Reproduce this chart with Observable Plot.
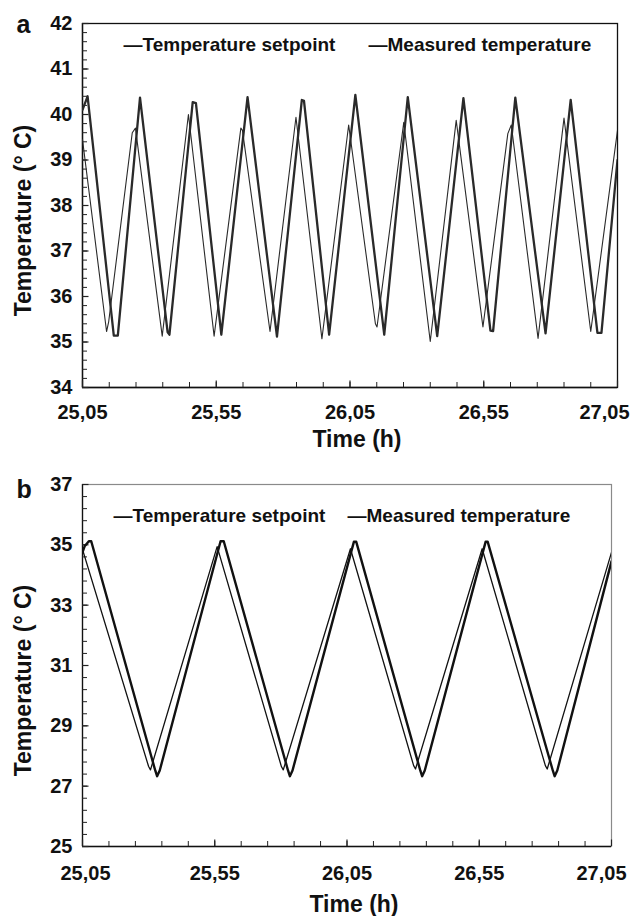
<!DOCTYPE html>
<html><head><meta charset="utf-8">
<script src="https://cdn.jsdelivr.net/npm/d3@7"></script>
<script src="https://cdn.jsdelivr.net/npm/@observablehq/plot@0.6"></script>
<style>
body{margin:0;background:#fff;}
#chart{width:632px;}
svg{display:block;}
</style></head><body><div id="chart"></div>
<script>
// ---- tick labels / categories ----
const xMajorTicks = [25.05, 25.55, 26.05, 26.55, 27.05];
const yTicksA = [34, 35, 36, 37, 38, 39, 40, 41, 42];
const yTicksB = [25, 27, 29, 31, 33, 35, 37];
const seriesNames = ["Temperature setpoint", "Measured temperature"];
const panelLetters = ["a", "b"];
const xTitle = "Time (h)";
const yTitle = "Temperature (° C)";

// ---- panel a data ----
const setATime = [25.050, 25.140, 25.148, 25.236, 25.248, 25.348, 25.446, 25.542, 25.642, 25.648, 25.751, 25.848, 25.945, 26.045, 26.145, 26.151, 26.251, 26.350, 26.447, 26.547, 26.640, 26.653, 26.753, 26.850, 26.950, 27.050];
const setAValue = [39.45, 35.23, 35.45, 39.60, 39.70, 35.13, 40.00, 35.13, 39.70, 39.65, 35.23, 39.94, 35.07, 39.77, 35.40, 35.33, 39.83, 35.01, 39.87, 35.33, 39.58, 39.77, 35.08, 39.92, 35.23, 39.65];
const measATime = [25.050, 25.069, 25.167, 25.182, 25.265, 25.368, 25.375, 25.462, 25.474, 25.569, 25.667, 25.777, 25.870, 25.878, 25.972, 26.070, 26.178, 26.266, 26.376, 26.474, 26.575, 26.585, 26.668, 26.781, 26.875, 26.975, 26.990, 27.050];
const measAValue = [40.10, 40.40, 35.14, 35.14, 40.37, 35.22, 35.16, 40.27, 40.25, 35.16, 40.38, 35.12, 40.32, 40.30, 35.16, 40.43, 35.16, 40.38, 35.13, 40.36, 35.25, 35.24, 40.37, 35.19, 40.32, 35.20, 35.20, 39.00];

// ---- panel b data ----
const setBTime = [25.050, 25.300, 25.307, 25.559, 25.802, 25.809, 26.063, 26.302, 26.309, 26.561, 26.800, 26.807, 27.050];
const setBValue = [34.85, 27.65, 27.54, 34.94, 27.65, 27.54, 34.87, 27.68, 27.57, 34.87, 27.68, 27.57, 34.75];
const measBTime = [25.050, 25.058, 25.074, 25.083, 25.325, 25.332, 25.342, 25.572, 25.584, 25.827, 25.834, 25.844, 26.076, 26.085, 26.327, 26.334, 26.344, 26.574, 26.582, 26.828, 26.835, 26.845, 27.050];
const measBValue = [34.75, 34.95, 35.12, 35.12, 27.52, 27.33, 27.52, 35.12, 35.12, 27.52, 27.33, 27.52, 35.10, 35.10, 27.52, 27.33, 27.52, 35.10, 35.10, 27.52, 27.33, 27.52, 34.45];

const FONT = "'Liberation Sans', Arial, Helvetica, sans-serif";
const fmtX = d => d.toFixed(2).replace(".", ",");

function table(times, values, name) {
  return times.map((t, i) => ({t, v: values[i], series: name}));
}

function panel(cfg) {
  const W = cfg.width, H = cfg.height;
  const fw = W - cfg.ml - cfg.mr, fh = H - cfg.mt - cfg.mb;
  const xDomain = [xMajorTicks[0], xMajorTicks[xMajorTicks.length - 1]];
  const yDomain = [cfg.yTicks[0], cfg.yTicks[cfg.yTicks.length - 1]];
  const xMinor = d3.range(0, 21).map(i => +(xDomain[0] + i * 0.1).toFixed(2));
  const nY = Math.round((yDomain[1] - yDomain[0]) / cfg.yMinorStep);
  const yMinor = d3.range(0, nY + 1).map(i => +(yDomain[0] + i * cfg.yMinorStep).toFixed(2));
  const setData = table(cfg.setT, cfg.setV, seriesNames[0]);
  const measData = table(cfg.measT, cfg.measV, seriesNames[1]);
  const txt = {fontFamily: FONT, fontWeight: "bold", fill: "#111"};
  const xAxisOpts = {tickSize: 0, tickPadding: cfg.xPad, fontSize: 20, fontWeight: "bold", fill: "#111", tickFormat: fmtX, label: null};
  return Plot.plot({
    width: W, height: H,
    marginLeft: cfg.ml, marginRight: cfg.mr, marginTop: cfg.mt, marginBottom: cfg.mb,
    style: {fontFamily: FONT, background: "white", overflow: "visible"},
    x: {domain: xDomain},
    y: {domain: yDomain},
    marks: [
      cfg.frameGray ? Plot.frame({stroke: "#8a8a8a", strokeWidth: 1.2}) : Plot.frame({stroke: "#111", strokeWidth: 1.3}),
      Plot.ruleX([xDomain[0]], {stroke: "#111", strokeWidth: 1.3}),
      Plot.ruleY([yDomain[0]], {stroke: "#111", strokeWidth: 1.3}),
      Plot.tickY(yMinor, {y: d => d, insetRight: fw - 5, stroke: "#222", strokeWidth: 1}),
      Plot.tickY(cfg.yTicks, {y: d => d, insetRight: fw - 6.5, stroke: "#222", strokeWidth: 1.2}),
      Plot.tickX(xMinor, {x: d => d, insetTop: fh - 5, stroke: "#222", strokeWidth: 1}),
      Plot.tickX(xMajorTicks, {x: d => d, insetTop: fh - 6.5, stroke: "#222", strokeWidth: 1.2}),
      Plot.axisY(cfg.yTicks, {tickSize: 0, tickPadding: 10, fontSize: 20, fontWeight: "bold", fill: "#111", label: null}),
      Plot.axisX(xMajorTicks.slice(0, 1), {...xAxisOpts, dx: cfg.firstDx}),
      Plot.axisX(xMajorTicks.slice(1, -1), xAxisOpts),
      Plot.axisX(xMajorTicks.slice(-1), {...xAxisOpts, dx: cfg.lastDx}),
      Plot.line(setData, {x: "t", y: "v", stroke: cfg.color, strokeWidth: cfg.thin, clip: true}),
      Plot.line(measData, {x: "t", y: "v", stroke: cfg.color, strokeWidth: cfg.thick, clip: true}),
      Plot.text([seriesNames[0]], {text: d => "\u2014" + d, frameAnchor: "top-left", textAnchor: "start", lineAnchor: "middle", dx: cfg.leg1, dy: cfg.legY, fontSize: 19, ...txt}),
      Plot.text([seriesNames[1]], {text: d => "\u2014" + d, frameAnchor: "top-left", textAnchor: "start", lineAnchor: "middle", dx: cfg.leg2, dy: cfg.legY, fontSize: 19, ...txt}),
      Plot.text([cfg.letter], {text: d => d, frameAnchor: "top-left", textAnchor: "start", lineAnchor: "middle", dx: -66, dy: cfg.letterDy, fontSize: 25, ...txt}),
      Plot.text([yTitle], {text: d => d, frameAnchor: "left", textAnchor: "middle", lineAnchor: "middle", rotate: -90, dx: -59, dy: 15, fontSize: 23, ...txt}),
      Plot.text([xTitle], {text: d => d, frameAnchor: "bottom", textAnchor: "middle", dx: 7, dy: cfg.xTitleDy, fontSize: 23, ...txt})
    ]
  });
}

const chart = document.getElementById("chart");
chart.append(panel({
  width: 632, height: 465, ml: 82, mr: 15, mt: 23, mb: 78,
  yTicks: yTicksA, yMinorStep: 0.2, xPad: 17, firstDx: 0, lastDx: -13,
  setT: setATime, setV: setAValue, measT: measATime, measV: measAValue,
  color: "#2a2a2a", thin: 1.1, thick: 2.3,
  leg1: 41, leg2: 286, legY: 21, letter: panelLetters[0], letterDy: 1.5, xTitleDy: 59,
  frameGray: false
}));
chart.append(panel({
  width: 632, height: 451, ml: 82, mr: 21, mt: 19, mb: 70,
  yTicks: yTicksB, yMinorStep: 0.4, xPad: 19, firstDx: 3, lastDx: -10,
  setT: setBTime, setV: setBValue, measT: measBTime, measV: measBValue,
  color: "#111", thin: 1.3, thick: 2.4,
  leg1: 31, leg2: 265, legY: 31, letter: panelLetters[1], letterDy: 5.5, xTitleDy: 65,
  frameGray: true
}));
</script>
</body></html>
